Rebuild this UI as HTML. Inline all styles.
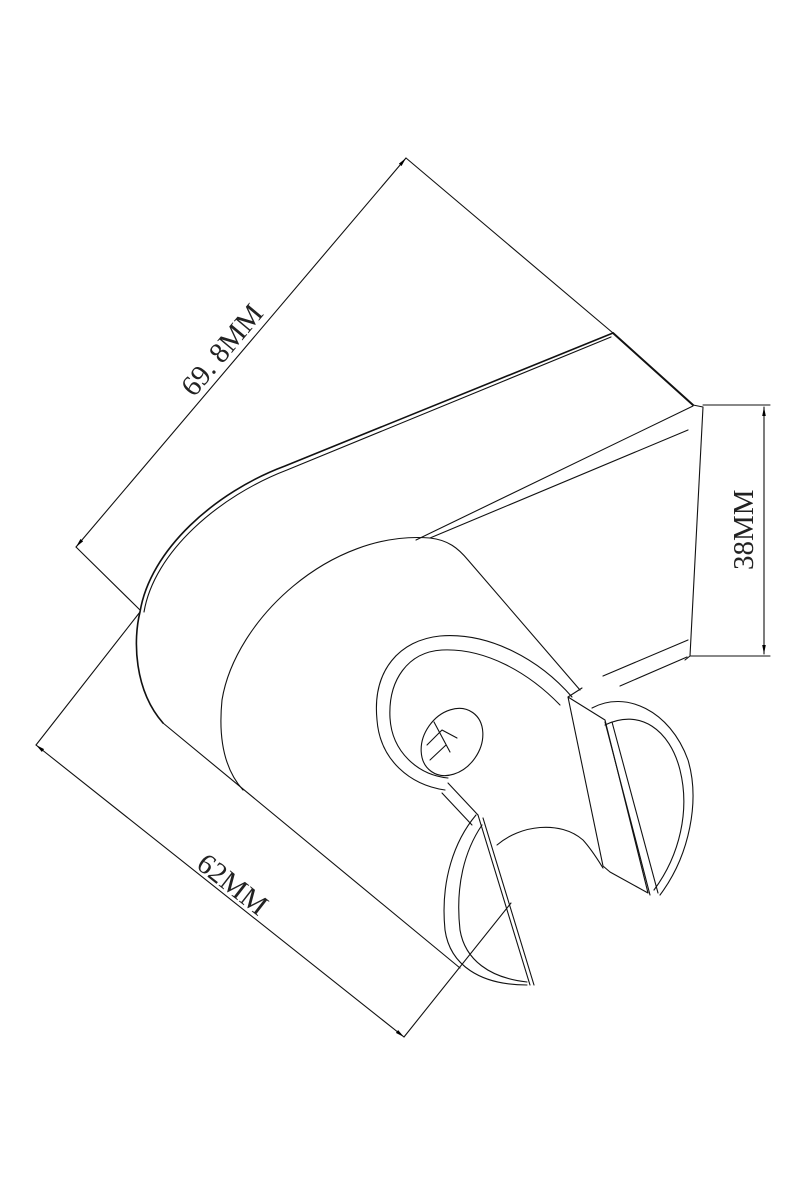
<!DOCTYPE html>
<html><head><meta charset="utf-8"><style>
html,body{margin:0;padding:0;background:#fff;}
svg{display:block;}
text{font-family:"Liberation Serif",serif;fill:#222;}
</style></head><body>
<svg width="800" height="1200" viewBox="0 0 800 1200" xmlns="http://www.w3.org/2000/svg">
<defs>
<marker id="ar" viewBox="0 0 10 10" refX="10" refY="5" markerWidth="9" markerHeight="9" orient="auto-start-reverse" markerUnits="userSpaceOnUse"><path d="M0,3 L10,5 L0,7 z" fill="#000"/></marker>
</defs>
<g fill="none" stroke="#111" stroke-width="1.1" stroke-linejoin="round" stroke-linecap="round">
<line x1="406" y1="158" x2="76" y2="547" marker-start="url(#ar)" marker-end="url(#ar)"/>
<polyline points="406,158 613,333"/>
<line x1="613" y1="333" x2="693" y2="405" stroke-width="2"/>
<line x1="76" y1="547" x2="140" y2="610"/>
<line x1="703" y1="405" x2="770" y2="405"/>
<line x1="690" y1="656" x2="770" y2="656"/>
<line x1="764" y1="407" x2="764" y2="654" marker-start="url(#ar)" marker-end="url(#ar)"/>
<line x1="36" y1="745" x2="404" y2="1037" marker-start="url(#ar)" marker-end="url(#ar)"/>
<line x1="36" y1="745" x2="140" y2="612"/>
<line x1="404" y1="1037" x2="511" y2="903"/>
<path d="M613,333 L285,466 C215,492 150,550 140,612 C133,640 134,690 163,723" stroke-width="1.6"/>
<path d="M611,337 L287,470 C219,496 154,552 144,612"/>
<polyline points="693,405 703,407 690,656 685,660"/>
<line x1="693" y1="406" x2="416" y2="540"/>
<line x1="688" y1="430" x2="430" y2="538"/>
<line x1="688" y1="640" x2="603" y2="676"/>
<line x1="687" y1="657" x2="620" y2="686"/>
<line x1="163" y1="723" x2="460" y2="968"/>
<path d="M430,538 C330,530 235,620 222,700 C218,740 225,770 243,790"/>
<path d="M430,538 C448,540 458,548 468,560 L580,690"/>
<path d="M445,790 C410,785 380,760 377,720 C372,670 400,640 440,636 C490,632 540,660 572,697"/>
<path d="M448,778 C418,775 392,752 390,718 C388,680 408,652 442,650 C485,648 528,672 560,705"/>
<ellipse cx="452" cy="742" rx="28" ry="36" transform="rotate(35 452 742)"/>
<path d="M427,745 L442,730 L457,738 M434,722 L450,752 M430,760 L446,745"/>
<line x1="448" y1="783" x2="478" y2="815"/>
<line x1="442" y1="793" x2="472" y2="825"/>
<path d="M476,815 C455,840 440,880 445,930 C450,965 480,985 527,985"/>
<path d="M482,825 C465,850 455,885 460,930 C465,960 490,978 527,982"/>
<line x1="478" y1="815" x2="530" y2="985"/>
<line x1="483" y1="818" x2="534" y2="985"/>
<path d="M497,845 C520,825 560,820 583,840 C592,850 598,860 603,868"/>
<polygon points="568,697 605,720 648,893 610,872 603,866"/>
<path d="M568,697 L582,688"/>
<path d="M592,708 C625,690 670,710 688,760 C700,800 690,855 660,895"/>
<path d="M605,725 C640,708 670,730 680,770 C690,810 680,855 654,890"/>
<line x1="605" y1="722" x2="650" y2="895"/>
<line x1="612" y1="722" x2="658" y2="893"/>
</g>
<text x="0" y="0" font-size="29" transform="translate(194,398) rotate(-50)">69. 8MM</text>
<text x="0" y="0" font-size="29" transform="translate(753,570) rotate(-90)">38MM</text>
<text x="0" y="0" font-size="29" transform="translate(195,867) rotate(38)">62MM</text>
</svg>
</body></html>
